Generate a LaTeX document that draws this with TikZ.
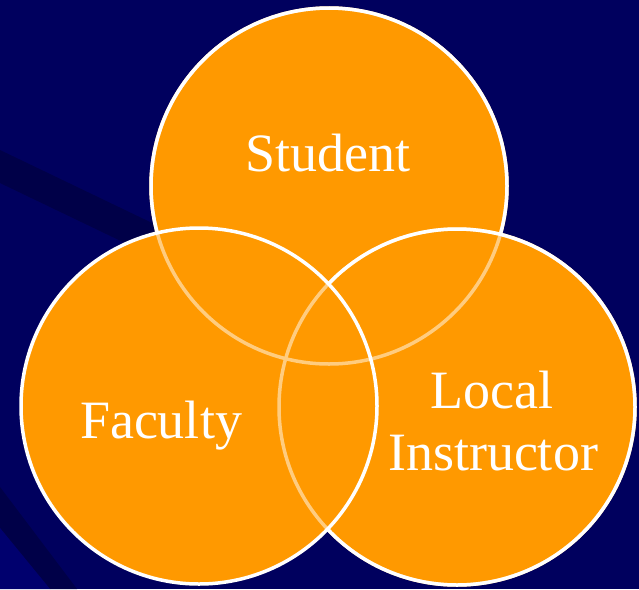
\documentclass[tikz,border=0pt]{standalone}
\usepackage{fontspec}
\setmainfont{Liberation Serif}
\definecolor{bgnavy}{RGB}{0,0,94}
\definecolor{bgdark}{RGB}{0,0,72}
\definecolor{bglight}{RGB}{0,0,110}
\definecolor{vorange}{RGB}{255,153,0}
\definecolor{fadeline}{RGB}{255,204,127}
\tikzset{
  ring/.style={draw=white, line width=3.5pt},
  faded/.style={draw=fadeline, line width=3.5pt},
  lbl/.style={text=white, font=\fontsize{54}{62}\selectfont, anchor=base, inner sep=0pt}
}
\begin{document}
\begin{tikzpicture}[x=1pt,y=-1pt]
\fill[bgnavy] (0,0) rectangle (639,589);
\useasboundingbox (0,0) rectangle (639,589);
% background stripes
\fill[bgdark] (0,150) -- (200,246) -- (200,279) -- (0,183) -- cycle;
\fill[bgdark] (0,487) -- (77,589) -- (50,589) -- (0,528) -- cycle;
\fill[bglight] (0,528) -- (50,589) -- (0,589) -- cycle;
% circle centres
\coordinate (S) at (329,186);
\coordinate (F) at (199,406);
\coordinate (L) at (457,407);
\def\rr{178pt}
% fills
\fill[vorange] (S) circle (\rr);
\fill[vorange] (L) circle (\rr);
\fill[vorange] (F) circle (\rr);
% faded (hidden) outlines
\draw[faded] (S) circle (\rr);
\draw[faded] (L) circle (\rr);
% visible outlines
\begin{scope}[even odd rule]
  \clip (-50,-50) rectangle (700,650) (F) circle (\rr);
  \begin{scope}[even odd rule]
    \clip (-50,-50) rectangle (700,650) (L) circle (\rr);
    \draw[ring] (S) circle (\rr);
  \end{scope}
  \draw[ring] (L) circle (\rr);
\end{scope}
\draw[ring] (F) circle (\rr);
% labels
\node[lbl] (student) at (328,171) {Student};
\node[lbl] (faculty) at (161,438) {Faculty};
\node[lbl] (local) at (492,408) {Local};
\node[lbl] (instr) at (493,470) {Instructor};
\end{tikzpicture}
\end{document}
